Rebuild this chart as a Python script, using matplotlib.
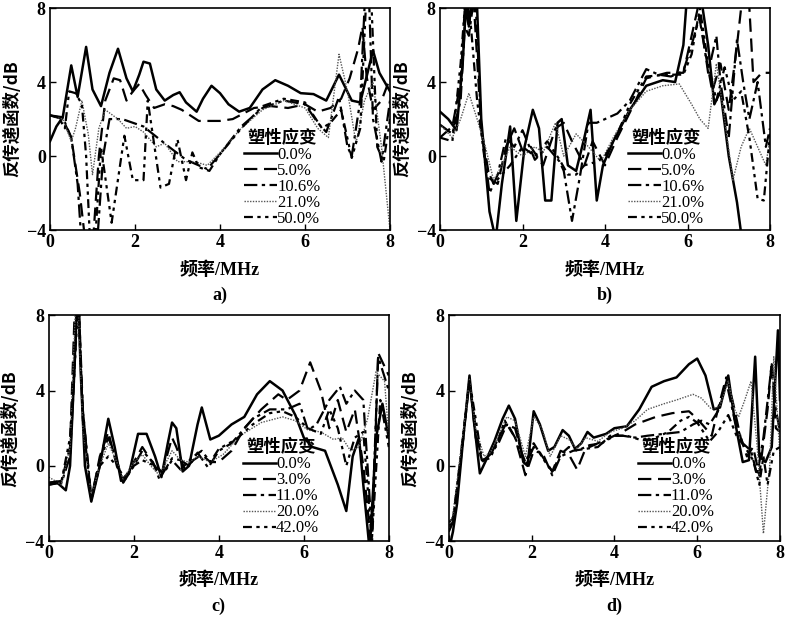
import matplotlib
matplotlib.use("Agg")
import matplotlib.pyplot as plt

# --- data (x: MHz, y: dB) ---
FREQ_TICKS = [0, 2, 4, 6, 8]
DB_TICKS = [-4, 0, 4, 8]
LABELS_AB = ["0.0%", "5.0%", "10.6%", "21.0%", "50.0%"]
LABELS_CD = ["0.0%", "3.0%", "11.0%", "20.0%", "42.0%"]
PANEL_NAMES = ["a)", "b)", "c)", "d)"]

# panel a
a_00 = [(0, 0.8), (0.15, 1.6), (0.3, 2.1), (0.4, 3.5), (0.5, 4.9), (0.65, 3.2), (0.85, 5.9), (1.0, 3.6),
        (1.2, 2.7), (1.4, 4.5), (1.6, 5.8), (1.8, 4.2), (1.95, 3.5), (2.1, 4.4), (2.2, 5.1), (2.35, 5.0),
        (2.5, 3.6), (2.7, 3.0), (2.9, 3.3), (3.05, 3.45), (3.2, 2.9), (3.45, 2.4), (3.6, 3.1), (3.8, 3.8),
        (4.0, 3.4), (4.2, 2.8), (4.45, 2.4), (4.7, 2.6), (5.0, 3.6), (5.3, 4.1), (5.6, 3.8), (5.9, 3.4),
        (6.2, 3.35), (6.5, 3.0), (6.8, 4.4), (7.1, 3.0), (7.3, 2.9), (7.45, 4.3), (7.6, 5.7), (7.75, 4.5),
        (8.0, 3.5)]
a_05 = [(0, 2.2), (0.3, 2.0), (0.5, 1.0), (0.7, -2), (0.85, -5), (1.0, -5), (1.15, 0), (1.3, 3.0),
        (1.5, 4.2), (1.65, 4.1), (1.8, 3.0), (1.95, 3.5), (2.1, 3.9), (2.25, 3.3), (2.45, 2.6), (2.7, 2.8),
        (2.9, 2.7), (3.1, 2.5), (3.5, 1.9), (4.0, 1.9), (4.3, 2.0), (4.8, 2.6), (5.2, 2.7), (5.6, 2.6),
        (6.0, 2.8), (6.3, 2.4), (6.6, 2.6), (6.85, 3.1), (7.05, 4.2), (7.25, 5.8), (7.35, 7), (7.45, 4.3),
        (7.6, 2.5), (7.8, 3.0), (8.0, 4.2)]
a_10 = [(0, 2.2), (0.3, 2.1), (0.5, 1.0), (0.65, -1.5), (0.75, -5), (1.1, -5), (1.25, 0), (1.4, 2.0),
        (1.7, 2.0), (2.2, 1.6), (2.8, 0.5), (3.2, -0.2), (3.7, -0.7), (4.0, 0.1), (4.5, 1.6), (5.0, 2.6),
        (5.5, 3.0), (6.0, 2.8), (6.3, 1.8), (6.5, 1.3), (6.8, 3.2), (7.0, 0.5), (7.1, 0), (7.3, 3.0),
        (7.42, 9), (7.5, 9), (7.6, 2.0), (7.8, -0.3), (8.0, 3.0)]
a_21 = [(0, 2.2), (0.3, 2.0), (0.5, 0.8), (0.6, 1.5), (0.75, 3.0), (0.9, 1.2), (1.0, -1), (1.15, 1.5),
        (1.3, 2.5), (1.6, 2.0), (1.8, 1.5), (2.0, 1.6), (2.2, 1.3), (2.5, 0.5), (2.7, 0.7), (3.0, -0.3),
        (3.4, -0.3), (3.7, -0.5), (4.0, 0.2), (4.5, 1.5), (5.0, 2.5), (5.5, 3.0), (6.0, 2.6), (6.3, 1.5),
        (6.55, 1.0), (6.8, 5.5), (7.0, 3.5), (7.2, 0.7), (7.4, 3.0), (7.6, 4.0), (7.8, 0.5), (8.0, -4)]
a_50 = [(0, 2.2), (0.2, 2.1), (0.35, 1.5), (0.45, 3.5), (0.6, 3.4), (0.75, 2.8), (0.85, 0), (0.95, -5),
        (1.05, -5), (1.2, 0.5), (1.45, -3.6), (1.75, 1.1), (1.95, -1.3), (2.2, -1.3), (2.3, 3.0),
        (2.6, -1.7), (2.8, -1.5), (3.0, 0.9), (3.2, -1.3), (3.35, 0.2), (3.5, -0.6), (3.75, -0.8),
        (4.0, 0.1), (4.5, 1.5), (5.0, 2.7), (5.5, 3.1), (6.0, 2.9), (6.4, 1.5), (6.6, 1.8), (6.85, 2.5),
        (7.1, -0.1), (7.3, 1.5), (7.45, 9), (7.55, 9), (7.7, 0.5), (7.85, -0.3), (8.0, 2.0)]

# panel b
b_00 = [(0, 2.4), (0.2, 2.0), (0.4, 1.4), (0.55, 5), (0.65, 9), (0.7, 7), (0.8, 9), (0.9, 8), (1.0, 2.0),
        (1.2, -3), (1.35, -4.5), (1.5, -1.5), (1.7, 1.6), (1.85, -3.5), (2.05, 0.5), (2.25, 2.5), (2.4, 1.5),
        (2.55, -2.4), (2.7, -2.4), (2.85, 1.8), (2.95, 2.0), (3.1, -0.5), (3.3, -0.8), (3.5, 1.0),
        (3.65, 2.5), (3.8, -2.4), (3.95, -0.5), (4.2, 0.8), (4.6, 2.5), (5.0, 3.8), (5.4, 4.1), (5.7, 4.0),
        (5.9, 6), (6.0, 9), (6.3, 9), (6.5, 6), (6.65, 2.8), (6.8, 3.5), (7.0, 0), (7.2, -2.5), (7.35, -5)]
b_05 = [(0, 1.0), (0.3, 1.6), (0.5, 4), (0.6, 8), (0.7, 7), (0.8, 9), (1.0, 1.5), (1.2, -1.2), (1.4, -1.5),
        (1.6, 0.5), (1.8, 1.5), (2.0, 0.3), (2.2, 0.5), (2.5, -0.5), (2.8, 1.5), (3.0, 1.8), (3.2, 0.8),
        (3.5, -0.5), (3.7, 0.8), (4.0, -0.5), (4.3, 1.0), (4.7, 2.8), (5.0, 4.2), (5.5, 4.5), (5.9, 4.5),
        (6.1, 6.5), (6.25, 8), (6.4, 6), (6.6, 3.5), (6.8, 5), (7.0, 2.5), (7.2, 6), (7.35, 9), (7.5, 8),
        (7.6, 4), (7.8, 4.5), (8.0, 4.5)]
b_10 = [(0, 1.7), (0.3, 1.2), (0.5, 3), (0.6, 7), (0.7, 6.5), (0.85, 9), (1.0, 1.5), (1.2, -2), (1.4, -1),
        (1.6, 1.0), (1.8, 0.5), (2.0, 1.4), (2.3, -0.2), (2.6, 0.5), (2.9, -0.3), (3.0, -0.8), (3.2, -3.5),
        (3.4, -1.0), (3.6, 1.8), (3.8, 1.8), (4.0, 2.0), (4.3, 2.3), (4.6, 3.0), (5.0, 4.7), (5.3, 4.4),
        (5.6, 4.3), (5.9, 4.6), (6.1, 6), (6.3, 7.6), (6.5, 4.5), (6.7, 6.5), (6.8, 4), (7.0, 1), (7.2, 6.3),
        (7.35, 4), (7.5, 2), (7.7, 4), (7.9, 0.5), (8.0, 1.5)]
b_21 = [(0, 1.7), (0.3, 1.0), (0.5, 2.0), (0.7, 3.4), (0.9, 2.0), (1.1, 0.5), (1.3, -1.3), (1.5, -0.5),
        (1.7, 0.5), (2.0, 0), (2.3, 0.5), (2.5, 0.2), (2.8, 1.8), (3.0, 0), (3.3, 1.2), (3.6, 0.5),
        (3.9, -0.3), (4.2, 1.0), (4.6, 2.5), (5.0, 3.5), (5.4, 3.8), (5.8, 3.9), (6.1, 2.8), (6.3, 2.0),
        (6.5, 1.5), (6.7, 5.0), (6.9, 2), (7.1, -1.3), (7.3, 0.5), (7.5, 1.5), (7.7, 0.5), (7.9, -0.5),
        (8.0, 1.0)]
b_50 = [(0, 1.0), (0.3, 0.8), (0.5, 5), (0.6, 8), (0.75, 7), (0.9, 3), (1.1, -0.5), (1.3, -1.5), (1.5, -1),
        (1.7, -0.5), (2.0, 0.5), (2.3, 0), (2.6, 0.8), (2.9, -0.2), (3.1, -1), (3.3, -1), (3.5, -0.5),
        (3.8, -0.3), (4.0, 0), (4.3, 1.2), (4.6, 2.8), (5.0, 4.3), (5.5, 4.4), (5.9, 4.4), (6.1, 5.5),
        (6.3, 8), (6.5, 5), (6.7, 3), (6.9, 4.8), (7.1, 3), (7.3, 3.5), (7.5, 1.0), (7.7, -2.3),
        (7.85, -2.4), (8.0, 1.2)]

# panel c
c_00 = [(0, -1.0), (0.2, -0.9), (0.4, -1.3), (0.5, 0), (0.6, 5), (0.68, 10), (0.75, 5), (0.85, 0),
        (1.0, -1.9), (1.2, 0), (1.4, 2.5), (1.55, 1.0), (1.7, -0.8), (1.9, -0.3), (2.1, 1.7), (2.3, 1.7),
        (2.5, 0.5), (2.65, -0.6), (2.8, 1.2), (2.9, 2.3), (3.0, 2.0), (3.15, -0.3), (3.3, 0), (3.5, 2.2),
        (3.6, 3.1), (3.8, 1.4), (4.0, 1.6), (4.3, 2.2), (4.6, 2.6), (4.9, 3.8), (5.2, 4.5), (5.5, 4.0),
        (5.8, 2.7), (6.0, 1.5), (6.2, 1.0), (6.5, 0.8), (6.8, -1.0), (7.0, -2.4), (7.15, 0.5), (7.3, 1.5),
        (7.4, -1), (7.55, -4.5), (7.7, 1.5), (7.85, 3.3), (8.0, 1.5)]
c_03 = [(0, -0.9), (0.3, -0.8), (0.5, 1), (0.62, 9), (0.7, 9), (0.8, 3), (1.0, -1.8), (1.2, 0.5),
        (1.4, 1.8), (1.6, 0), (1.75, -0.8), (2.0, 0.2), (2.2, 1.0), (2.4, 0.3), (2.65, -0.5), (2.9, 1.5),
        (3.0, 1.0), (3.2, -0.2), (3.4, 0.3), (3.6, 0.6), (3.8, 0.2), (4.0, 0.2), (4.3, 0.8), (4.6, 2.0),
        (5.0, 3.0), (5.4, 3.8), (5.6, 3.5), (5.9, 4.0), (6.15, 5.5), (6.4, 4), (6.6, 2.0), (6.8, 3.5),
        (7.0, 1.8), (7.2, 3), (7.4, 0), (7.6, -4.5), (7.75, 6), (8.0, 4.8)]
c_11 = [(0, -1.0), (0.3, -0.9), (0.5, 0.5), (0.6, 4.8), (0.68, 9), (0.8, 3), (1.0, -1.7), (1.2, 0.3),
        (1.4, 1.5), (1.6, 0.3), (1.75, -0.9), (2.0, 0), (2.2, 0.8), (2.45, 0.2), (2.6, -0.7), (2.9, 0.4),
        (3.1, 0.3), (3.3, 0), (3.5, 0.7), (3.75, -0.1), (4.0, 0.8), (4.3, 1.2), (4.8, 2.5), (5.2, 3.0),
        (5.6, 3.0), (5.9, 3.3), (6.1, 1.9), (6.3, 2.2), (6.6, 3.5), (6.85, 4.2), (7.0, 3.3), (7.2, 4.0),
        (7.4, 3.5), (7.6, -3.5), (7.75, 5.8), (8.0, 4.0)]
c_20 = [(0, -0.6), (0.3, -1.0), (0.5, 1.0), (0.62, 8), (0.68, 9), (0.8, 2), (1.0, -1.6), (1.2, 0),
        (1.4, 1.2), (1.6, 0.2), (1.75, -0.7), (2.0, 0.2), (2.2, 0.6), (2.4, 0), (2.6, -0.5), (2.9, 0.8),
        (3.1, 0.3), (3.3, 0.2), (3.5, 0.5), (3.8, 0.2), (4.1, 0.6), (4.5, 1.6), (5.0, 2.3), (5.5, 2.6),
        (5.8, 2.4), (6.1, 1.9), (6.4, 1.8), (6.7, 1.4), (6.9, 1.5), (7.1, 0.8), (7.3, 1.0), (7.5, 2.5),
        (7.7, 5.0), (7.9, 4.5), (8.0, 1.5)]
c_42 = [(0, -0.9), (0.3, -0.8), (0.5, 1.5), (0.6, 5.0), (0.7, 9), (0.8, 2.5), (1.0, -1.8), (1.2, 0),
        (1.4, 0.5), (1.6, 0), (1.8, -0.7), (2.0, 0), (2.2, 0.3), (2.5, 0), (2.7, -0.4), (2.9, 0.3),
        (3.1, -0.2), (3.4, 0.5), (3.6, 0.8), (3.8, 0.2), (4.0, 0.9), (4.4, 1.4), (4.8, 2.2), (5.2, 2.8),
        (5.5, 2.9), (5.8, 2.6), (6.1, 2.0), (6.4, 1.7), (6.6, 3), (6.8, 2.0), (7.0, 0), (7.2, 1.5),
        (7.4, 1.8), (7.6, -4), (7.8, 3.5), (8.0, 1.0)]

# panel d
d_00 = [(0, -4.5), (0.1, -3.5), (0.2, -2), (0.35, 1.5), (0.5, 4.8), (0.6, 2.5), (0.75, -0.4), (0.9, 0.3),
        (1.1, 1.3), (1.3, 2.5), (1.45, 3.2), (1.6, 2.5), (1.8, 0.2), (1.9, 0), (2.05, 2.9), (2.2, 2.2),
        (2.4, 0.8), (2.55, 1.0), (2.75, 1.9), (2.9, 1.6), (3.05, 0.9), (3.2, 1.2), (3.35, 1.8), (3.5, 1.5),
        (3.8, 1.7), (4.0, 2.0), (4.3, 2.1), (4.6, 3.0), (4.9, 4.2), (5.2, 4.5), (5.5, 4.7), (5.8, 5.4),
        (6.0, 5.7), (6.2, 4.8), (6.4, 3.0), (6.55, 3.1), (6.75, 4.8), (6.9, 2.5), (7.1, 0.2), (7.25, 0.3),
        (7.4, 5.8), (7.5, 0.5), (7.65, 0.2), (7.8, 1.0), (7.95, 7.2), (8.0, 3.5)]
d_03 = [(0, -3.0), (0.1, -2.8), (0.3, 0.5), (0.5, 4.6), (0.65, 1.5), (0.8, 0.3), (1.0, 0.5), (1.2, 1.5),
        (1.4, 2.3), (1.6, 1.5), (1.85, -0.5), (2.05, 0.8), (2.2, 0.7), (2.5, -0.3), (2.7, 0.8), (2.9, 0.6),
        (3.1, -0.2), (3.3, 0.9), (3.6, 1.2), (3.9, 1.5), (4.2, 1.8), (4.5, 2.2), (5.0, 2.6), (5.4, 2.8),
        (5.8, 2.9), (6.0, 2.5), (6.2, 2.0), (6.35, 1.6), (6.5, 3.0), (6.7, 4.7), (6.85, 3.5), (7.05, 1.5),
        (7.2, 0.5), (7.35, 1.0), (7.5, -0.5), (7.7, 3), (7.8, 5.5), (7.9, 2.0), (8.0, 1.8)]
d_11 = [(0, -3.2), (0.1, -3.0), (0.3, 0.8), (0.5, 4.5), (0.65, 2.0), (0.8, 0.2), (1.0, 0.6), (1.2, 1.2),
        (1.4, 2.2), (1.6, 2.0), (1.85, 0), (2.05, 1.0), (2.3, 0.5), (2.5, -0.5), (2.7, 0.5), (3.0, 0.8),
        (3.3, 0.9), (3.6, 1.0), (3.9, 1.6), (4.2, 1.6), (4.5, 1.5), (4.8, 1.6), (5.2, 1.7), (5.6, 1.8),
        (5.9, 2.2), (6.1, 2.4), (6.3, 2.2), (6.5, 2.9), (6.7, 4.5), (6.9, 2.5), (7.1, 1.2), (7.3, 0.8),
        (7.45, -0.5), (7.6, 1.5), (7.8, 5.4), (7.9, 3.0), (8.0, 1.8)]
d_20 = [(0, -3.2), (0.1, -2.6), (0.3, 1.0), (0.5, 4.6), (0.65, 2.0), (0.85, 0.5), (1.0, 0.7), (1.2, 1.6),
        (1.4, 2.6), (1.6, 2.4), (1.85, 0.5), (2.05, 2.6), (2.25, 2.0), (2.45, 0.5), (2.7, 1.6), (2.9, 1.4),
        (3.1, 0.9), (3.3, 1.5), (3.6, 1.3), (3.9, 1.8), (4.2, 2.0), (4.5, 2.4), (4.8, 3.0), (5.2, 3.3),
        (5.5, 3.5), (5.9, 3.8), (6.1, 3.6), (6.35, 3.0), (6.55, 3.2), (6.75, 4.5), (6.9, 3.0), (7.0, 2.6),
        (7.15, 3.5), (7.3, 4.5), (7.45, 1.0), (7.6, -3.6), (7.75, 0), (7.85, 5.8), (8.0, 0.5)]
d_42 = [(0, -3.5), (0.1, -3.0), (0.3, 0.5), (0.5, 4.5), (0.65, 2.5), (0.8, 0.3), (1.0, 0.4), (1.2, 1.4),
        (1.35, 2.4), (1.6, 1.5), (1.85, 0.2), (2.05, 1.2), (2.3, 0.3), (2.5, -0.3), (2.7, 0.6), (2.9, 1.0),
        (3.1, 0.8), (3.4, 1.1), (3.7, 1.2), (4.0, 1.6), (4.3, 1.6), (4.6, 1.4), (4.9, 1.4), (5.3, 1.8),
        (5.6, 2.4), (5.8, 2.6), (6.0, 2.3), (6.3, 1.3), (6.5, 1.8), (6.75, 2.7), (6.95, 1.6), (7.15, 1.0),
        (7.35, 0.3), (7.5, -1), (7.6, 0.5), (7.7, -1), (7.85, 0.8), (8.0, 1.0)]

PANELS = [
    ([a_00, a_05, a_10, a_21, a_50], LABELS_AB),
    ([b_00, b_05, b_10, b_21, b_50], LABELS_AB),
    ([c_00, c_03, c_11, c_20, c_42], LABELS_CD),
    ([d_00, d_03, d_11, d_20, d_42], LABELS_CD),
]

# line styles: solid, dashed, dash-dot, dotted, dash-dot-dot
STYLES = [
    dict(linestyle="-", linewidth=1.8, color="black"),
    dict(linestyle=(0, (6, 3)), linewidth=1.6, color="black"),
    dict(linestyle=(0, (6, 2, 1.5, 2)), linewidth=1.6, color="black"),
    dict(linestyle=(0, (1, 1)), linewidth=1.0, color="#555555"),
    dict(linestyle=(0, (4, 2, 1.5, 2, 1.5, 2)), linewidth=1.6, color="black"),
]

# axes rectangles in figure fraction (left, bottom, width, height)
RECTS = [
    (0.0625, 0.627, 0.425, 0.360),
    (0.550, 0.627, 0.4125, 0.360),
    (0.061, 0.123, 0.425, 0.366),
    (0.561, 0.123, 0.414, 0.366),
]

SERIF_CJK = ["Liberation Serif", "Noto Sans CJK SC", "DejaVu Sans"]
CJK_SERIF = ["Noto Sans CJK SC", "DejaVu Sans"]

plt.rcParams["font.family"] = SERIF_CJK
plt.rcParams["axes.unicode_minus"] = True

fig = plt.figure(figsize=(8.0, 6.17), dpi=100)

for i, ((series, labels), rect) in enumerate(zip(PANELS, RECTS)):
    ax = fig.add_axes(rect)
    for pts, lab, st in zip(series, labels, STYLES):
        x = [p[0] for p in pts]
        y = [p[1] for p in pts]
        ax.plot(x, y, label=lab, **st)

    ax.set_xlim(0, 8)
    ax.set_ylim(-4, 8)
    ax.set_xticks(FREQ_TICKS)
    ax.set_yticks(DB_TICKS)
    ax.tick_params(direction="in", length=4, width=1, labelsize=13, pad=3)
    for lbl in ax.get_xticklabels() + ax.get_yticklabels():
        lbl.set_fontweight("bold")
    for sp in ax.spines.values():
        sp.set_linewidth(1.2)

    ax.set_xlabel("频率/MHz", fontsize=13, fontweight="bold", labelpad=7)
    ax.set_ylabel("反传递函数/dB", fontsize=12.5, fontweight="bold", labelpad=4,
                  family=CJK_SERIF)

    leg = ax.legend(loc="upper left", bbox_to_anchor=(0.57, 0.455), frameon=False,
                    title="塑性应变", fontsize=12, title_fontsize=12.5,
                    handlelength=2.0, handletextpad=0.0, labelspacing=0.0,
                    borderpad=0.0, borderaxespad=0.0)
    leg.get_title().set_fontweight("bold")
    leg.get_title().set_family(CJK_SERIF)

    cx = rect[0] + rect[2] / 2
    fig.text(cx, rect[1] - 0.105, PANEL_NAMES[i], ha="center", va="center",
             fontsize=13, fontweight="bold")

fig.savefig("out.png", dpi=100)
